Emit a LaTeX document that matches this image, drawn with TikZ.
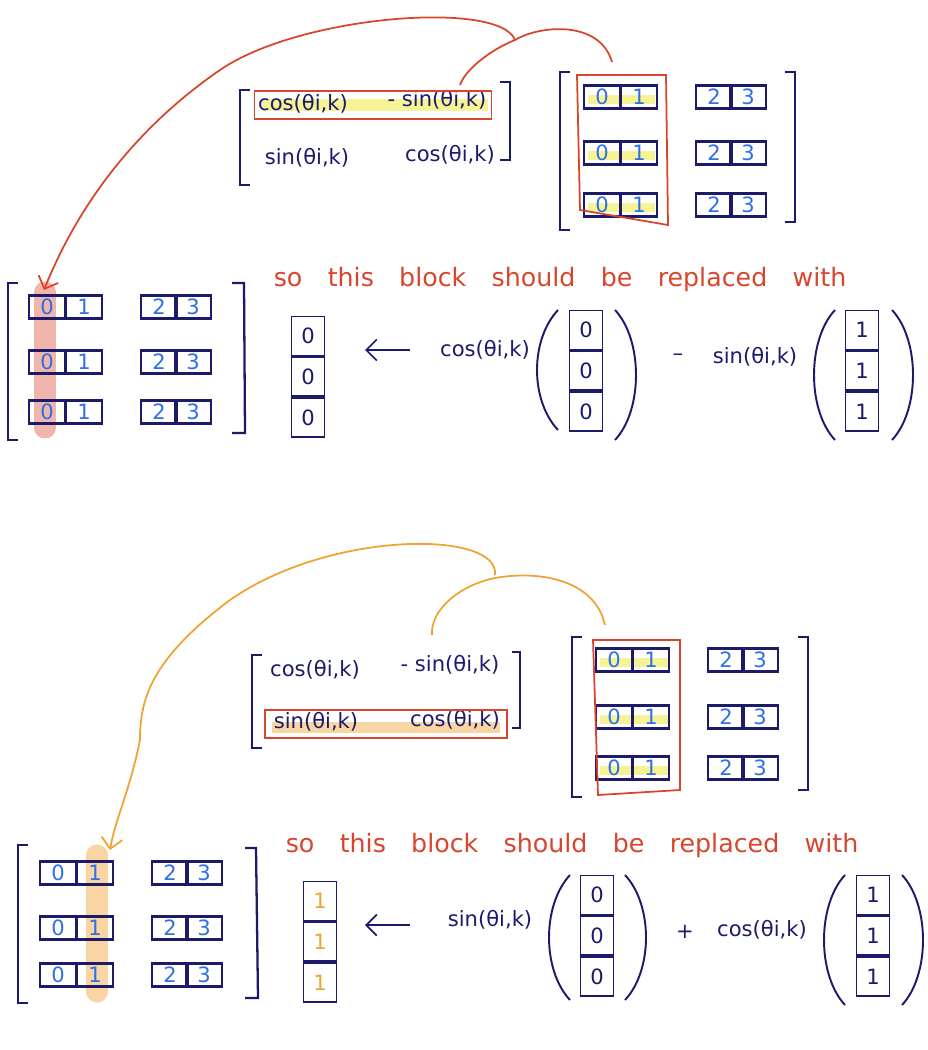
\documentclass[tikz,border=0pt]{standalone}
\usetikzlibrary{arrows.meta,positioning}
\usepackage{fontspec}
\setsansfont{DejaVu Sans}
\setmainfont{DejaVu Sans}
\definecolor{navy}{HTML}{1C1A6B}
\definecolor{digblue}{HTML}{2F6FE8}
\definecolor{hred}{HTML}{D9452C}
\definecolor{horange}{HTML}{F0A232}
\definecolor{hyellow}{HTML}{F3F07A}
\begin{document}
\begin{tikzpicture}[x=0.02cm,y=-0.02cm,
  cell/.style={draw=navy,line width=1.3pt,minimum width=0.72cm,minimum height=0.46cm,inner sep=0,font=\large,text=digblue},
  vcell/.style={draw=navy,line width=1.1pt,minimum width=0.66cm,minimum height=0.78cm,inner sep=0,font=\large,text=navy},
  brk/.style={draw=navy,line width=1.3pt},
  lbl/.style={text=navy,font=\large,inner sep=1pt},
  note/.style={text=hred,font=\Large,inner sep=1pt},
  redc/.style={draw=hred,line width=1pt},
  orc/.style={draw=horange,line width=1pt}]
\useasboundingbox (0,0) rectangle (928,1050);
% ---------- macros ----------
\newcommand\blkrow[3]{% prefix, x, y
  \node[cell] (#1a) at (#2,#3) {0};
  \node[cell] (#1b) at ({#2+37},#3) {1};
  \node[cell] (#1c) at ({#2+112},#3) {2};
  \node[cell] (#1d) at ({#2+146},#3) {3};}
\newcommand\lparen[3]{\draw[brk,line width=1.1pt] (#1,#2) .. controls ({#1-28},{#2+30}) and ({#1-28},{#3-30}) .. (#1,#3);}
\newcommand\rparen[3]{\draw[brk,line width=1.1pt] (#1,#2) .. controls ({#1+28},{#2+30}) and ({#1+28},{#3-30}) .. (#1,#3);}
% =============== TOP ===============
\fill[hyellow,opacity=.8] (262,99) rectangle (488,111);
\draw[brk] (250,90) -- (240,90) -- (240,185) -- (250,185);
\draw[brk] (500,82) -- (510,82) -- (510,160) -- (500,160);
\node[lbl] (r11) at (303,104) {cos(θi,k)};
\node[lbl] (r12) at (437,100) {- sin(θi,k)};
\node[lbl] (r21) at (307,158) {sin(θi,k)};
\node[lbl] (r22) at (450,155) {cos(θi,k)};
\node[redc,draw,minimum width=4.74cm,minimum height=0.56cm] (rowA) at (373,105) {};
\foreach \yy in {99,155,207}{\fill[hyellow,opacity=.8] (588,\yy-4) rectangle (655,\yy+5);}
\blkrow{ta}{602}{97}\blkrow{tb}{602}{153}\blkrow{tc}{602}{205}
\draw[brk] (570,72) -- (560,72) -- (560,230) -- (570,230);
\draw[brk] (785,72) -- (795,72) -- (795,222) -- (785,222);
\draw[redc] (577,75) -- (666,75) -- (668,225) -- (580,210) -- cycle;
\coordinate (ta1) at (612,62);
\coordinate (ta2) at (460,85);
\coordinate (ta3) at (44,290);
\draw[redc] (ta1) .. controls (600,20) and (540,25) .. (515,40) .. controls (490,50) and (465,70) .. (ta2);
\draw[redc,-{Straight Barb[length=6pt]}] (515,40) .. controls (500,0) and (300,15) .. (220,70) .. controls (140,125) and (80,200) .. (ta3);
\draw[hred,opacity=.4,line width=12pt,line cap=round] (45,292) -- (45,428);
\blkrow{la}{47}{307}\blkrow{lb}{47}{362}\blkrow{lc}{47}{412}
\draw[brk] (18,283) -- (8,283) -- (8,440) -- (18,440);
\draw[brk] (232,283) -- (244,283) -- (245,433) -- (232,433);
\node[note] (n1) at (560,280) {so\quad this\quad block\quad should\quad be\quad replaced\quad with};
\node[vcell] (va1) at (308,336) {0};
\node[vcell,below=0pt of va1] (va2) {0};
\node[vcell,below=0pt of va2] (va3) {0};
\draw[brk,line width=1pt,-{Straight Barb[length=6pt]}] (410,350) -- (365,350);
\node[lbl] (c1) at (485,350) {cos(θi,k)};
\node[vcell] (vb1) at (586,330) {0};
\node[vcell,below=0pt of vb1] (vb2) {0};
\node[vcell,below=0pt of vb2] (vb3) {0};
\lparen{558}{310}{430}\rparen{615}{310}{440}
\node[lbl] (m1) at (678,357) {–};
\node[lbl] (s1) at (755,357) {sin(θi,k)};
\node[vcell,text=navy] (vc1) at (862,330) {1};
\node[vcell,below=0pt of vc1] (vc2) {1};
\node[vcell,below=0pt of vc2] (vc3) {1};
\lparen{835}{310}{440}\rparen{892}{310}{440}
% =============== BOTTOM ===============
\fill[horange,opacity=.45] (272,722) rectangle (500,733);
\draw[brk] (262,655) -- (252,655) -- (252,748) -- (262,748);
\draw[brk] (512,652) -- (520,652) -- (520,728) -- (512,728);
\node[lbl] (q11) at (315,670) {cos(θi,k)};
\node[lbl] (q12) at (450,665) {- sin(θi,k)};
\node[lbl] (q21) at (316,722) {sin(θi,k)};
\node[lbl] (q22) at (455,720) {cos(θi,k)};
\node[redc,draw,minimum width=4.84cm,minimum height=0.56cm] (rowB) at (386,724) {};
\foreach \yy in {662,719,770}{\fill[hyellow,opacity=.8] (600,\yy-4) rectangle (668,\yy+5);}
\blkrow{ba}{614}{660}\blkrow{bb}{614}{717}\blkrow{bc}{614}{768}
\draw[brk] (582,637) -- (572,637) -- (572,797) -- (582,797);
\draw[brk] (798,637) -- (808,637) -- (808,790) -- (798,790);
\draw[redc] (593,640) -- (680,640) -- (680,790) -- (598,795) -- cycle;
\coordinate (tb1) at (605,625);
\coordinate (tb2) at (432,635);
\coordinate (tb3) at (110,850);
\draw[orc] (tb1) .. controls (595,580) and (540,570) .. (495,578) .. controls (460,585) and (430,610) .. (tb2);
\draw[orc,-{Straight Barb[length=6pt]}] (495,575) .. controls (500,530) and (330,530) .. (230,600) .. controls (150,660) and (140,700) .. (140,740) .. controls (130,790) and (115,820) .. (tb3);
\draw[horange,opacity=.45,line width=12pt,line cap=round] (97,855) -- (97,992);
\blkrow{da}{58}{873}\blkrow{db}{58}{928}\blkrow{dc}{58}{975}
\draw[brk] (28,845) -- (18,845) -- (18,1003) -- (28,1003);
\draw[brk] (245,848) -- (256,848) -- (258,998) -- (245,998);
\node[note] (n2) at (572,846) {so\quad this\quad block\quad should\quad be\quad replaced\quad with};
\node[vcell,text=horange] (wa1) at (320,901) {1};
\node[vcell,text=horange,below=0pt of wa1] (wa2) {1};
\node[vcell,text=horange,below=0pt of wa2] (wa3) {1};
\draw[brk,line width=1pt,-{Straight Barb[length=6pt]}] (410,925) -- (365,925);
\node[lbl] (c2) at (490,920) {sin(θi,k)};
\node[vcell] (wb1) at (597,895) {0};
\node[vcell,below=0pt of wb1] (wb2) {0};
\node[vcell,below=0pt of wb2] (wb3) {0};
\lparen{570}{875}{1000}\rparen{625}{875}{1000}
\node[lbl] (p2) at (685,932) {+};
\node[lbl] (s2) at (762,930) {cos(θi,k)};
\node[vcell] (wc1) at (873,895) {1};
\node[vcell,below=0pt of wc1] (wc2) {1};
\node[vcell,below=0pt of wc2] (wc3) {1};
\lparen{845}{875}{1005}\rparen{902}{875}{1005}
\end{tikzpicture}
\end{document}
